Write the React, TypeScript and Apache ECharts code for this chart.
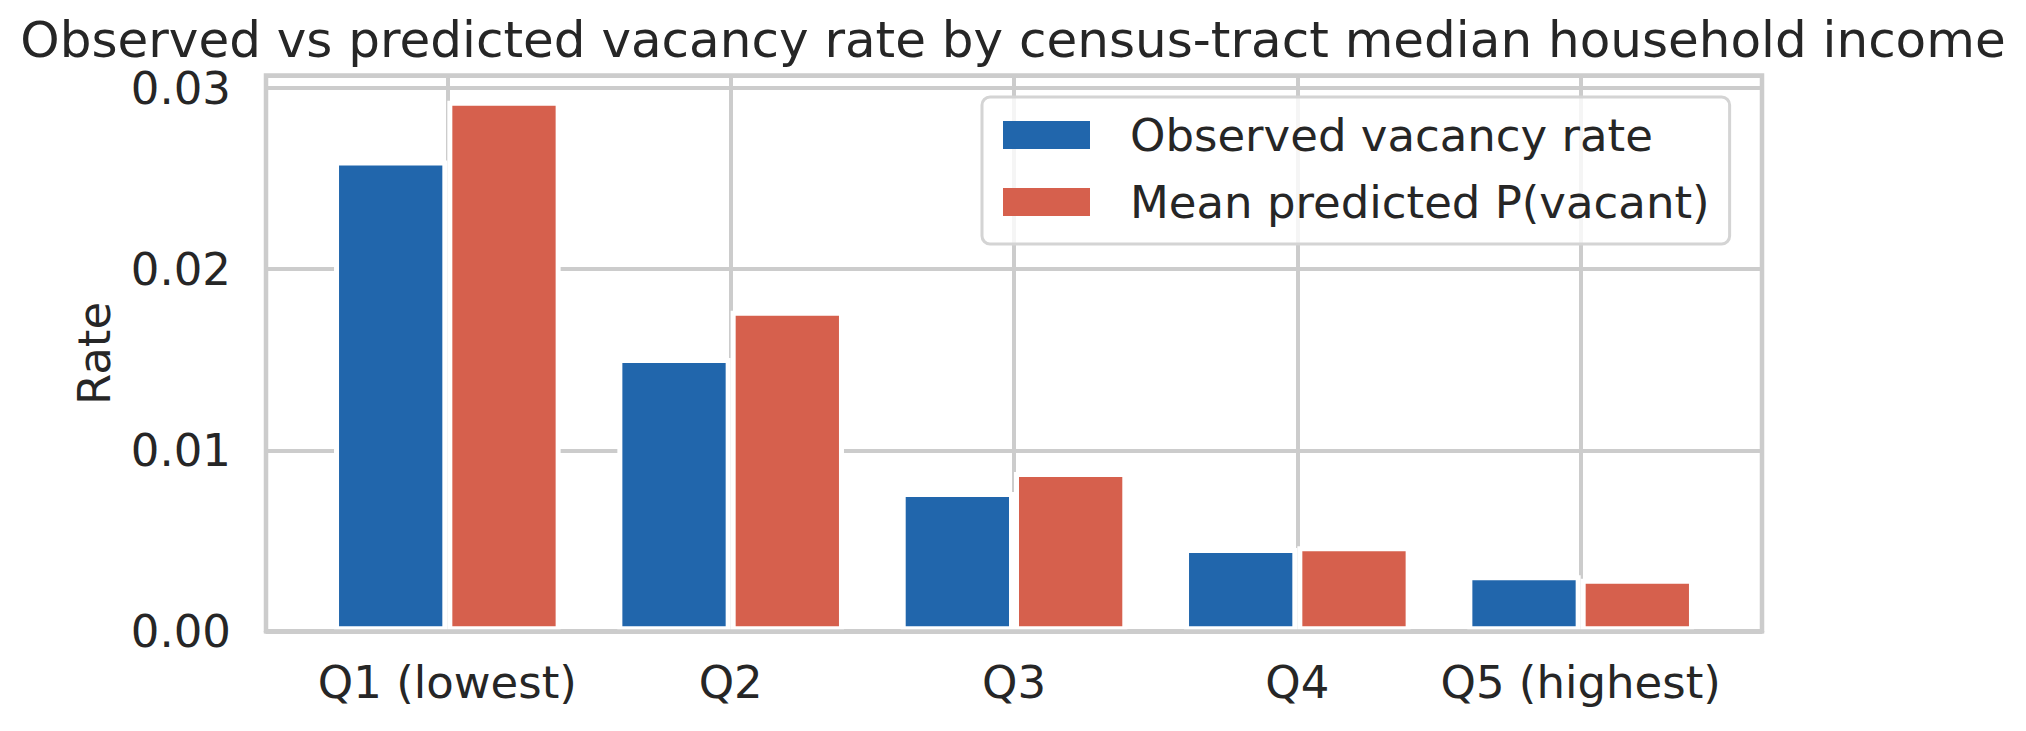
import React, { useEffect, useRef } from "react";
import * as echarts from "echarts";

const categories = ["Q1 (lowest)", "Q2", "Q3", "Q4", "Q5 (highest)"];
const observed = [0.026, 0.0151, 0.0077, 0.0046, 0.0031];
const predicted = [0.0293, 0.0177, 0.0088, 0.0047, 0.0029];
const seriesNames = ["Observed vacancy rate", "Mean predicted P(vacant)"];
const titleText = "Observed vs predicted vacancy rate by census-tract median household income";

const FONT = "DejaVu Sans";
const TXT = "#262626";
const GRID = "#cccccc";

export default function App() {
  const ref = useRef<HTMLDivElement>(null);
  useEffect(() => {
    if (!ref.current) return;
    const chart = echarts.init(ref.current, null, { renderer: "svg" });
    const catLabel = (v: number) => {
      const i = Math.round(v);
      return Math.abs(v - i) < 1e-6 && i >= 0 && i < categories.length ? categories[i] : "";
    };
    chart.setOption({
      animation: false,
      backgroundColor: "#ffffff",
      textStyle: { fontFamily: FONT },
      title: {
        text: titleText,
        left: "center",
        top: 16,
        padding: 0,
        textStyle: { fontFamily: FONT, fontSize: 50, fontWeight: "normal", color: TXT, lineHeight: 48 },
      },
      grid: {
        left: 266,
        right: 264,
        top: 75.5,
        bottom: 99.7,
        show: true,
        borderColor: GRID,
        borderWidth: 4.5,
        backgroundColor: "transparent",
        containLabel: false,
      },
      legend: {
        orient: "vertical",
        left: 982,
        top: 97,
        icon: "rect",
        itemWidth: 87,
        itemHeight: 28,
        itemGap: 15,
        padding: [12, 20, 16, 21],
        backgroundColor: "rgba(255,255,255,0.8)",
        borderColor: "#d4d4d4",
        borderWidth: 3,
        borderRadius: 8,
        itemStyle: { borderWidth: 0 },
        textStyle: { fontFamily: FONT, fontSize: 45, color: TXT, lineHeight: 52, padding: [0, 0, 0, 35] },
        data: seriesNames,
      },
      xAxis: [
        {
          type: "value",
          min: -0.64,
          max: 4.64,
          axisLine: { show: false },
          axisTick: { show: false },
          splitLine: { show: true, lineStyle: { color: GRID, width: 4 } },
          axisLabel: {
            fontFamily: FONT,
            fontSize: 45,
            color: TXT,
            margin: 29,
            formatter: catLabel,
            showMinLabel: false,
            showMaxLabel: false,
          },
        },
        {
          type: "value",
          min: -0.64,
          max: 4.64,
          position: "bottom",
          z: 10,
          axisLine: { show: true, onZero: false, lineStyle: { color: GRID, width: 4.5 } },
          axisTick: { show: false },
          splitLine: { show: false },
          axisLabel: { show: false },
        },
      ],
      yAxis: {
        type: "value",
        min: 0,
        max: 0.0307,
        interval: 0.01,
        name: "Rate",
        nameLocation: "middle",
        nameGap: 149,
        nameTextStyle: { fontFamily: FONT, fontSize: 45, color: TXT },
        axisLine: { show: false },
        axisTick: { show: false },
        splitLine: { show: true, lineStyle: { color: GRID, width: 4 } },
        axisLabel: {
          fontFamily: FONT,
          fontSize: 45,
          color: TXT,
          margin: 35,
          lineHeight: 40,
          formatter: (v: number) =>
            Math.abs(v * 100 - Math.round(v * 100)) < 1e-6 ? v.toFixed(2) : "",
        },
      },
      series: [
        {
          name: seriesNames[0],
          type: "bar",
          xAxisIndex: 0,
          data: observed.map((v, i) => [i, v]),
          barWidth: 113.3,
          barGap: "0%",
          itemStyle: { color: "#2166ac", borderColor: "#ffffff", borderWidth: 5 },
        },
        {
          name: seriesNames[1],
          type: "bar",
          xAxisIndex: 0,
          data: predicted.map((v, i) => [i, v]),
          barWidth: 113.3,
          barGap: "0%",
          itemStyle: { color: "#d6604d", borderColor: "#ffffff", borderWidth: 5 },
        },
      ],
    });
    return () => chart.dispose();
  }, []);
  return (
    <div
      ref={ref}
      style={{ position: "fixed", left: 0, top: 0, width: 2026, height: 731, background: "#fff" }}
    />
  );
}
